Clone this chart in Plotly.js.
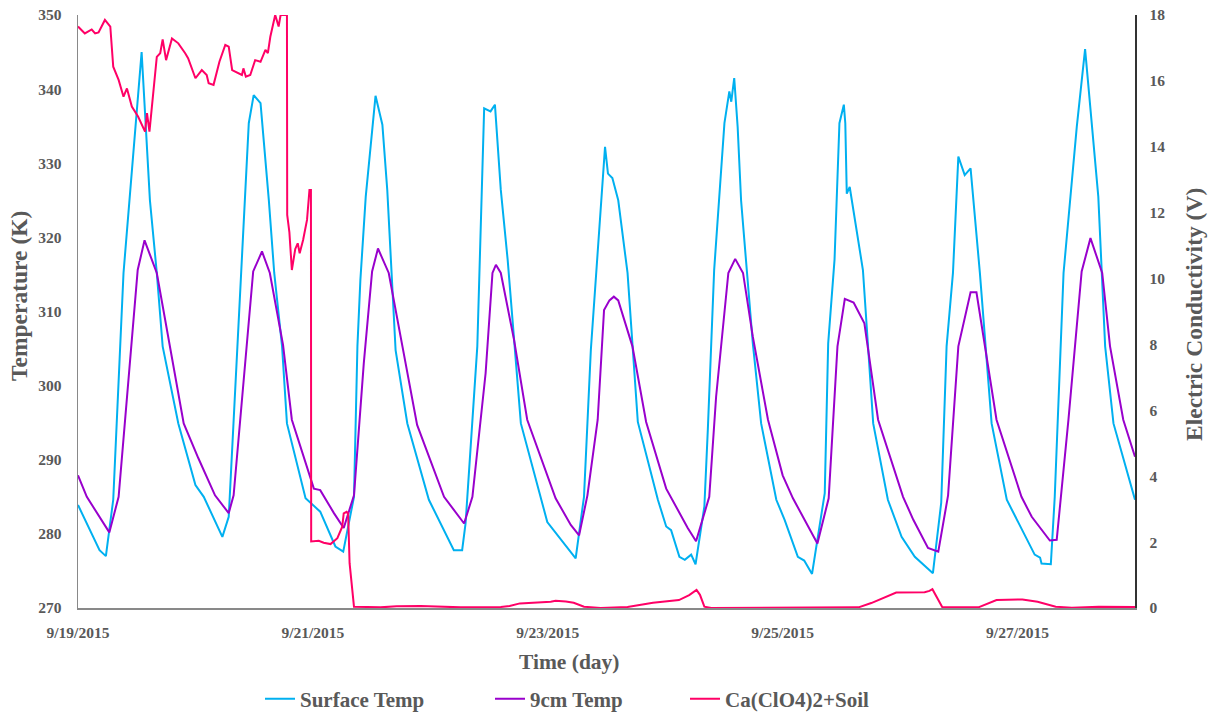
<!DOCTYPE html>
<html>
<head>
<meta charset="utf-8">
<script src="https://cdn.plot.ly/plotly-3.0.1.min.js"></script>
<style>
  html, body { margin: 0; padding: 0; background: #fff; }
  #chart { width: 1216px; height: 715px; }
</style>
</head>
<body>
<div id="chart"></div>
<script>
// Field log, 9/19/2015 – 9/28/2015. Times are hours elapsed since 9/19/2015 00:00.
const START_DATE = '2015-09-19';
const END_DATE = '2015-09-28';

// Surface temperature (K)
const surfaceHours = [0, 4.4, 5.7, 7.2, 9.3, 13.0, 14.7, 16.1, 17.3, 20.5, 24.0, 25.7, 29.5, 30.8,
  34.9, 35.9, 37.3, 39.0, 40.1, 41.7, 42.7, 46.5, 49.5, 52.6, 54.2, 56.4, 57.1, 57.7, 58.8, 60.8,
  62.2, 63.2, 64.9, 67.3, 71.7, 76.8, 78.5, 79.2, 81.6, 83.0, 84.3, 85.2, 86.4, 87.8, 90.5, 94.6,
  95.9, 101.7, 103.4, 104.8, 106.9, 107.7, 108.3, 109.2, 110.4, 112.3, 114.4, 118.5, 120.2, 121.2,
  122.9, 124.0, 125.3, 126.2, 128.0, 128.7, 130.0, 132.1, 133.1, 133.5, 134.1, 134.8, 135.5, 136.5,
  137.9, 139.6, 142.7, 144.4, 147.1, 148.4, 150.0, 152.6, 153.3, 154.6, 155.6, 156.5, 156.8, 157.1,
  157.7, 160.4, 162.5, 165.5, 168.3, 171.0, 174.7, 176.4, 177.5, 178.8, 179.9, 181.2, 182.4, 184.3,
  186.7, 189.8, 195.5, 196.6, 196.9, 198.8, 199.6, 201.4, 204.1, 205.8, 208.5, 209.9, 211.6, 216.0];
const surfaceTemp = [283.9, 277.8, 277.0, 284.6, 315.2, 345.0, 325.0, 315.2, 305.3, 294.9, 286.6, 285.0, 279.6, 282.3,
  335.4, 339.2, 338.1, 325.0, 315.2, 305.3, 294.9, 284.8, 283.0, 278.3, 277.6, 285.0, 305.3, 314.2, 325.5, 339.1,
  335.2, 326.4, 304.8, 294.9, 284.6, 277.8, 277.8, 281.4, 305.3, 337.4, 337.0, 337.9, 326.4, 317.0, 294.9, 284.6,
  281.6, 276.7, 285.0, 304.8, 325.5, 332.2, 328.6, 328.0, 325.0, 315.2, 295.1, 284.6, 281.0, 280.5,
  276.9, 276.5, 277.2, 275.9, 283.7, 294.0, 315.6, 335.4, 339.7, 338.3, 341.5, 334.9, 325.0, 317.0,
  305.7, 294.9, 284.6, 281.9, 276.9, 276.4, 274.6, 285.5, 305.7, 317.0, 335.4, 337.9, 335.4, 325.9,
  326.8, 315.6, 294.9, 284.6, 279.6, 276.9, 274.7, 284.2, 305.3, 315.2, 330.9, 328.4, 329.3, 315.2,
  294.9, 284.6, 277.2, 276.8, 276.0, 275.9, 285.0, 315.2, 334.9, 345.4, 325.5, 305.3, 294.9, 284.6];

// Temperature 9 cm below the surface (K)
const depthHours = [0, 1.8, 6.4, 8.3, 12.2, 13.6, 16.1, 18.8, 21.6, 24.6, 28.0, 30.8, 31.8, 35.8,
  37.6, 39.2, 41.9, 43.7, 48.2, 49.5, 52.3, 54.3, 56.4, 58.4, 60.1, 61.3, 63.5, 66.3, 69.3, 74.8,
  78.9, 80.6, 83.3, 84.7, 85.4, 86.4, 89.1, 91.8, 97.6, 100.7, 102.4, 104.1, 106.2, 107.5, 108.6,
  109.5, 110.4, 113.3, 116.1, 120.2, 124.6, 126.3, 129.0, 130.4, 132.9, 134.3, 135.9, 137.9, 141.0,
  144.0, 146.1, 151.1, 153.4, 155.2, 156.7, 158.5, 160.7, 163.5, 168.6, 170.7, 173.7, 175.8, 177.8,
  179.9, 182.4, 183.6, 187.7, 192.8, 194.9, 198.6, 200.0, 202.4, 205.1, 206.9, 209.3, 210.9, 213.6, 216.0];
const depthTemp = [287.9, 285.0, 280.2, 285.0, 315.6, 319.6, 315.2, 305.3, 294.9, 290.2, 285.2, 282.8, 285.2, 315.4,
  318.1, 315.2, 305.5, 295.4, 286.1, 285.9, 282.8, 280.8, 285.2, 303.0, 315.4, 318.5, 315.2, 305.3, 294.7, 285.0,
  281.4, 285.0, 301.7, 315.2, 316.3, 315.2, 306.2, 295.4, 284.8, 281.2, 279.8, 285.2, 295.4, 310.2, 311.5,
  312.0, 311.5, 305.3, 295.1, 286.1, 280.8, 279.0, 285.0, 298.5, 315.2, 317.1, 315.2, 306.6, 295.4,
  287.9, 284.8, 278.7, 284.8, 305.3, 311.7, 311.2, 308.4, 295.4, 285.0, 281.9, 278.1, 277.6, 285.2,
  305.3, 312.6, 312.6, 295.4, 285.0, 282.3, 279.1, 279.2, 295.4, 315.4, 319.9, 315.2, 305.3, 295.4, 290.4];

// Electric conductivity of the Ca(ClO4)2 + soil sensor (V)
const ecHours = [0, 1.4, 2.8, 3.5, 4.2, 5.5, 6.6, 7.2, 8.3, 9.3, 10.0, 11.0, 12.3, 13.7, 14.1, 14.6,
  16.1, 16.8, 17.3, 18.0, 19.2, 20.5, 21.9, 22.5, 24.0, 25.3, 26.3, 26.7, 27.7, 28.9, 30.1, 30.8,
  31.5, 33.5, 33.8, 34.3, 35.2, 36.2, 37.3, 38.3, 38.8, 39.3, 40.0, 40.3, 41.0, 41.4, 42.7, 42.75,
  43.2, 43.7, 44.4, 44.9, 45.3, 46.0, 46.8, 47.3, 47.6, 47.65, 49.2, 50.2, 51.6, 53.0, 54.0, 54.3,
  54.9, 55.2, 55.5, 56.4, 61.8, 65.1, 70.0, 74.1, 78.2, 86.4, 88.2, 90.3, 93.5, 96.6, 97.6, 99.7,
  101.3, 103.4, 106.8, 112.3, 117.5, 120.2, 122.8, 124.9, 126.4, 127.1, 128.0, 129.4, 143.7, 159.5,
  162.1, 165.2, 167.2, 173.0, 174.0, 174.6, 175.4, 176.6, 184.0, 185.6, 187.7, 193.0, 196.1, 199.8,
  203.1, 208.6, 216.0];
const ecVolts = [17.65, 17.44, 17.56, 17.44, 17.47, 17.85, 17.65, 16.43, 16.03, 15.52, 15.77, 15.22, 14.91, 14.46, 15.02, 14.46,
  16.73, 16.84, 17.26, 16.63, 17.29, 17.14, 16.84, 16.69, 16.08, 16.33, 16.18, 15.93, 15.88, 16.58, 17.09, 17.04,
  16.33, 16.18, 16.38, 16.13, 16.18, 16.63, 16.58, 16.94, 16.84, 17.34, 17.80, 18.0, 17.65, 18.0, 18.0, 11.93,
  11.4, 10.26, 10.9, 11.07, 10.77, 11.17, 11.78, 12.69, 12.69, 2.02, 2.04, 1.98, 1.94, 2.12, 2.47, 2.87,
  2.92, 2.87, 1.36, 0.04, 0.02, 0.05, 0.06, 0.05, 0.02, 0.03, 0.06, 0.14, 0.16, 0.19, 0.22, 0.20,
  0.16, 0.04, 0.0, 0.03, 0.16, 0.20, 0.24, 0.39, 0.55, 0.40, 0.04, 0.0, 0.01, 0.02,
  0.15, 0.35, 0.47, 0.48, 0.52, 0.57, 0.35, 0.03, 0.02, 0.12, 0.24, 0.26, 0.19, 0.04,
  0.01, 0.04, 0.03];

// Axis ticks
const tempTicks = [270, 280, 290, 300, 310, 320, 330, 340, 350];
const voltTicks = [0, 2, 4, 6, 8, 10, 12, 14, 16, 18];

// Elapsed hours -> 'YYYY-MM-DD HH:MM:SS' timestamps for the date axis
function toStamps(hours) {
  const base = Date.UTC(2015, 8, 19);
  const pad = n => String(n).padStart(2, '0');
  return hours.map(h => {
    const d = new Date(base + Math.round(h * 3600) * 1000);
    return d.getUTCFullYear() + '-' + pad(d.getUTCMonth() + 1) + '-' + pad(d.getUTCDate()) + ' ' +
      pad(d.getUTCHours()) + ':' + pad(d.getUTCMinutes()) + ':' + pad(d.getUTCSeconds());
  });
}

const W = 1216, H = 715;
const GREY = '#595959';
const FONT = 'Liberation Serif, Times New Roman, serif';
const legendFont = { family: FONT, size: 21, color: GREY, weight: 700 };

// one legend box per series so each entry sits at its own spot along the bottom
function legendAt(px) {
  return {
    xref: 'container', yref: 'container',
    x: px / W, xanchor: 'left', y: 1 - 699 / H, yanchor: 'middle',
    orientation: 'h', itemwidth: 30, font: legendFont,
    bgcolor: 'rgba(0,0,0,0)'
  };
}

const traces = [
  {
    name: 'Surface Temp', type: 'scatter', mode: 'lines', legend: 'legend',
    x: toStamps(surfaceHours), y: surfaceTemp,
    line: { color: '#00B0F0', width: 2 }
  },
  {
    name: '9cm Temp', type: 'scatter', mode: 'lines', legend: 'legend2',
    x: toStamps(depthHours), y: depthTemp,
    line: { color: '#9900CC', width: 2 }
  },
  {
    name: 'Ca(ClO4)2+Soil', type: 'scatter', mode: 'lines', yaxis: 'y2', legend: 'legend3',
    x: toStamps(ecHours), y: ecVolts,
    line: { color: '#FF0066', width: 2 }
  }
];

const tickFont = { family: FONT, size: 15.5, color: GREY, weight: 700 };

const layout = {
  width: W, height: H,
  margin: { l: 78, r: 81, t: 15, b: 107, autoexpand: false },
  paper_bgcolor: '#fff', plot_bgcolor: '#fff',
  font: { family: FONT, color: GREY, size: 15.5, weight: 700 },
  showlegend: true,
  legend: legendAt(260),
  legend2: legendAt(490),
  legend3: legendAt(685),
  xaxis: {
    type: 'date', range: [START_DATE, END_DATE],
    tick0: START_DATE, dtick: 2 * 86400000, tickformat: '%-m/%-d/%Y',
    showgrid: false, zeroline: false,
    showline: true, linecolor: '#898989', linewidth: 1.5,
    ticks: '', ticklabelstandoff: 10, tickfont: tickFont
  },
  yaxis: {
    range: [270, 350], tickvals: tempTicks,
    showgrid: false, zeroline: false,
    showline: true, linecolor: '#898989', linewidth: 1.5,
    ticks: '', ticklabelstandoff: 12, tickfont: tickFont
  },
  yaxis2: {
    overlaying: 'y', side: 'right',
    range: [0, 18], tickvals: voltTicks,
    showgrid: false, zeroline: false,
    showline: true, linecolor: '#333333', linewidth: 1.5,
    ticks: '', ticklabelstandoff: 10, tickfont: tickFont
  },
  annotations: [
    {
      text: 'Time (day)', xref: 'paper', yref: 'paper',
      x: (569 - 78) / 1057, y: -(662 - 608) / 593, xanchor: 'center', yanchor: 'middle',
      showarrow: false, font: { family: FONT, size: 21.5, color: GREY, weight: 700 }
    },
    {
      text: 'Temperature (K)', xref: 'paper', yref: 'paper', textangle: -90,
      x: -(78 - 19) / 1057, y: (608 - 296) / 593, xanchor: 'center', yanchor: 'middle',
      showarrow: false, font: { family: FONT, size: 23.5, color: GREY, weight: 700 }
    },
    {
      text: 'Electric Conductivity (V)', xref: 'paper', yref: 'paper', textangle: -90,
      x: 1 + (1194 - 1135) / 1057, y: (608 - 315) / 593, xanchor: 'center', yanchor: 'middle',
      showarrow: false, font: { family: FONT, size: 23.5, color: GREY, weight: 700 }
    }
  ]
};

Plotly.newPlot('chart', traces, layout, { displayModeBar: false, staticPlot: true });
</script>
</body>
</html>
